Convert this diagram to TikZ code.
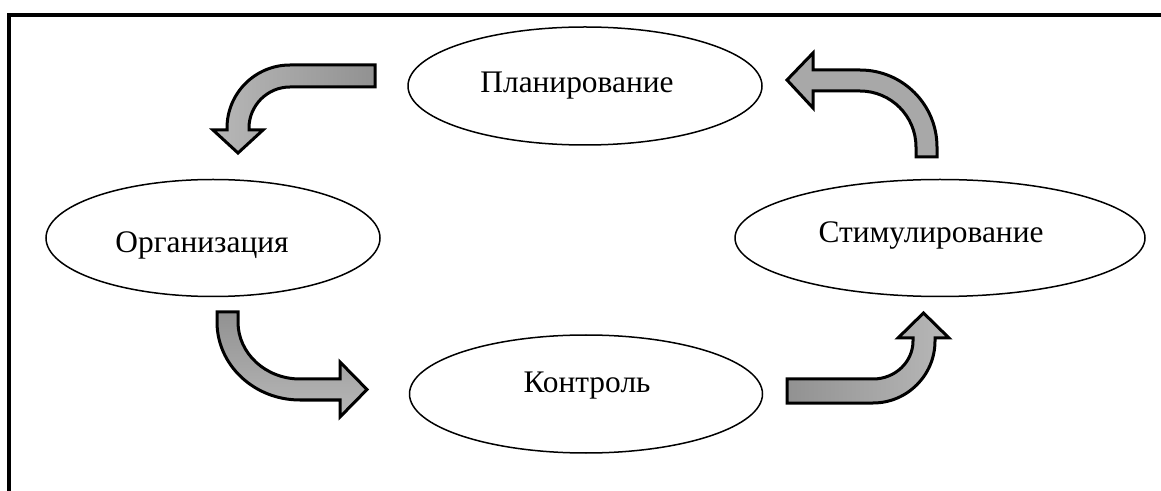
\documentclass[tikz,border=0pt]{standalone}
\usepackage{fontspec}
\setmainfont{Liberation Serif}
\usetikzlibrary{shapes.geometric}

\definecolor{arrdark}{gray}{0.57}
\definecolor{arrmid}{gray}{0.66}
\definecolor{arrlight}{gray}{0.72}

\begin{document}
\begin{tikzpicture}[x=0.5pt,y=-0.5pt,
  oval/.style={ellipse,draw=black,line width=0.75pt,inner sep=0pt},
  caption/.style={anchor=base,inner sep=0pt,font=\fontsize{15.7}{18}\selectfont},
  bentarrow/.style={draw=black,line width=1.5pt,line join=miter}]
\useasboundingbox (0,0) rectangle (1161,491);

% frame
\draw[line width=2pt] (9,495) -- (9,15) -- (1165,15);

% stages
\node[oval,minimum width=177pt,minimum height=59pt] (plan) at (585,86) {};
\node[oval,minimum width=167pt,minimum height=58.5pt] (org) at (213,238) {};
\node[oval,minimum width=205pt,minimum height=58.5pt] (stim) at (940,238) {};
\node[oval,minimum width=176.5pt,minimum height=59pt] (ctrl) at (586,394) {};

\node[caption] (plantext) at ([shift={(-8,7)}]plan.center) {Планирование};
\node[caption] (orgtext) at ([shift={(-11,15)}]org.center) {Организация};
\node[caption] (stimtext) at ([shift={(-9,5)}]stim.center) {Стимулирование};
\node[caption] (ctrltext) at ([shift={(1,-1)}]ctrl.center) {Контроль};

% plan -> org
\shadedraw[bentarrow,left color=arrlight,right color=arrdark]
  (375,65) -- (290,65) .. controls (255.2,65) and (227,93.2) .. (227,128)
  -- (227,130) -- (213,130) -- (238,153) -- (263,130) -- (249,130) -- (249,128)
  .. controls (249,105.4) and (267.4,87) .. (290,87) -- (375,87) -- cycle;

% org -> ctrl
\shadedraw[bentarrow,top color=arrdark,bottom color=arrlight]
  (217,312) -- (217,322) .. controls (217,365.1) and (254.2,400) .. (300,400)
  -- (340,400) -- (340,417) -- (367,389.5) -- (340,362) -- (340,379) -- (300,379)
  .. controls (265.8,379) and (238,353.5) .. (238,322) -- (238,312) -- cycle;

% ctrl -> stim
\shadedraw[bentarrow,left color=arrdark,right color=arrlight]
  (787,379) -- (873,379) .. controls (895.1,379) and (913,362) .. (913,341)
  -- (913,338) -- (898,338) -- (923.5,313) -- (949,338) -- (935,338) -- (935,341)
  .. controls (935,375.2) and (907.2,403) .. (873,403) -- (787,403) -- cycle;

% stim -> plan
\filldraw[bentarrow,fill=arrmid]
  (787,80) -- (813,53) -- (813,70) -- (860,70) .. controls (902.5,70) and (937,104.5) .. (937,147)
  -- (937,157) -- (916,157) -- (916,147)
  .. controls (916,116.1) and (890.9,91) .. (860,91) -- (813,91) -- (813,108) -- cycle;
\end{tikzpicture}
\end{document}
